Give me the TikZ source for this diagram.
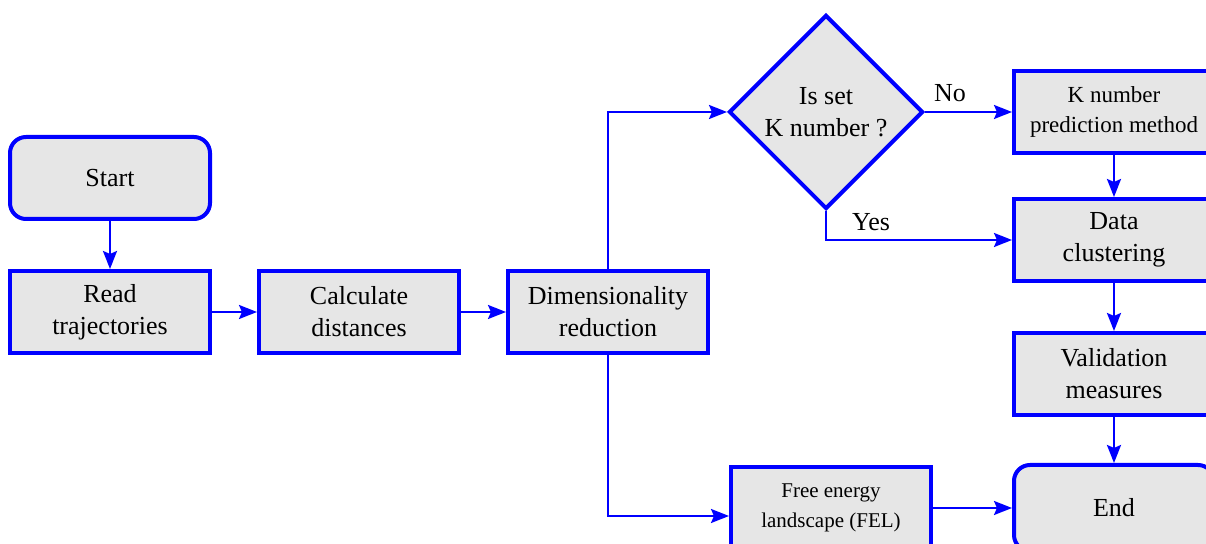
\documentclass[tikz,border=0pt]{standalone}
\usepackage{fontspec}
\setmainfont{Liberation Serif}
\usepackage{tikz}
\usetikzlibrary{positioning,shapes.geometric,arrows.meta}
\definecolor{colorline}{HTML}{0000FF}
\definecolor{colorfill}{HTML}{E6E6E6}
\tikzset{proc/.style={draw=colorline, fill=colorfill, line width=2pt, align=center,
  minimum width=100pt, minimum height=41pt, inner sep=1pt, font=\fontsize{13}{16}\selectfont}}
\tikzset{term/.style={proc, rounded corners=8pt}}
\tikzset{decis/.style={draw=colorline, fill=colorfill, line width=2pt, diamond, align=center,
  minimum width=97pt, minimum height=97pt, inner sep=0pt, font=\fontsize{13}{16}\selectfont}}
\tikzset{
  edgeflow/.style={colorline, line width=1.2pt, -{Stealth[length=9pt,width=7pt,inset=1.5pt]}},
  edgelabel/.style={font=\fontsize{13}{16}\selectfont, inner sep=1pt}
}

\begin{document}
\begin{tikzpicture}[x=0.5pt, y=-0.5pt]
\useasboundingbox (0,0) rectangle (1206,544);

\node[term](start) at (110,178) {Start};

\node[proc](read) at (110,312) {Read\\trajectories};

\node[proc](dist) at (359,312) {Calculate\\distances};

\node[proc](dimred) at (608,312) {Dimensionality\\reduction};

\node[decis](isset) at (826,112) {Is set\\K number ?};

\node[proc, font=\fontsize{11.5}{15}\selectfont](kpred) at (1114,112)
{K number\\prediction method};

\node[proc](clust) at (1114,240) {Data\\clustering};

\node[proc](valid) at (1114,374) {Validation\\measures};

\node[term, minimum height=43pt](finish) at (1114,508) {End};

\node[proc, font=\fontsize{10.5}{15}\selectfont](fel) at (831,508)
{Free energy\\landscape (FEL)};

\draw[edgeflow] (start) -- (read);
\draw[edgeflow] (read) -- (dist);
\draw[edgeflow] (dist) -- (dimred);

\draw[edgeflow] (dimred.north) |- (isset.west);
\draw[edgeflow] (dimred.south) |- ([yshift=-4pt]fel.west);

\draw[edgeflow] (isset.east) -- (kpred.west);
\node[edgelabel](no) at (950,93) {No};

\draw[edgeflow] (isset.south) |- (clust.west);
\node[edgelabel](yes) at (871,222) {Yes};

\draw[edgeflow] (kpred) -- (clust);
\draw[edgeflow] (clust) -- (valid);
\draw[edgeflow] (valid) -- (finish);
\draw[edgeflow] (fel) -- (finish);
\end{tikzpicture}
\end{document}
